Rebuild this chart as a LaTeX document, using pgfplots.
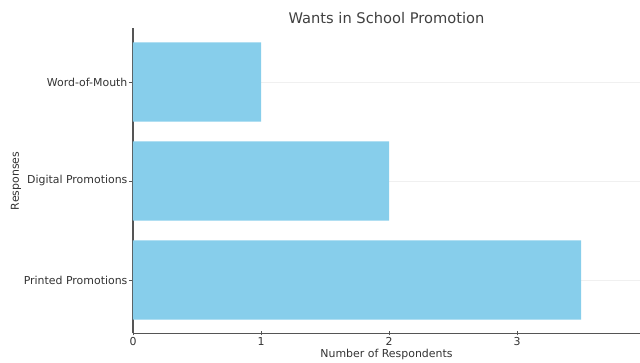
\documentclass[border=0pt]{standalone}
\usepackage{fontspec}
\setmainfont{DejaVu Sans}
\usepackage{pgfplots}
\pgfplotsset{compat=1.18}
\definecolor{skyb}{HTML}{87CEEB}
\definecolor{spine}{HTML}{555555}
\begin{document}
\begin{tikzpicture}
\useasboundingbox (0,0) rectangle (480pt,271.5pt);
\begin{axis}[
  at={(99.75pt,21.4pt)}, anchor=south west,
  scale only axis, width=380.25pt, height=228.75pt,
  xmin=0, xmax=3.96, ymin=-0.54, ymax=2.54,
  axis x line*=bottom, axis y line*=left,
  axis line style={spine, line width=0.8pt, -},
  xtick={0,1,2,3},
  ytick={0,1,2},
  yticklabels={Printed Promotions, Digital Promotions, Word-of-Mouth},
  tick style={spine, line width=0.6pt},
  major tick length=3pt,
  tick align=center,
  ymajorgrids, grid style={gray!12, line width=0.5pt},
  /pgf/number format/assume math mode=true,
  tick label style={font=\fontsize{8.2}{9.5}\selectfont, text=black!80},
  yticklabel style={inner xsep=1pt},
  xticklabel style={inner ysep=1.5pt},
  xlabel={Number of Respondents}, ylabel={Responses},
  label style={font=\fontsize{8.2}{9.5}\selectfont, text=black!80},
  xlabel style={at={(0.5,0)}, anchor=center, yshift=-15.4pt},
  ylabel style={yshift=-2.5pt},
  title={Wants in School Promotion},
  title style={font=\fontsize{11}{13}\selectfont, text=black!75, at={(0.5,1)}, anchor=center, yshift=1.9pt},
  xbar, bar width=0.8, bar shift=0pt,
  clip=false,
]
\addplot[fill=skyb, draw=none] coordinates {(3.5,0) (2,1) (1,2)};
\end{axis}
\end{tikzpicture}
\end{document}
